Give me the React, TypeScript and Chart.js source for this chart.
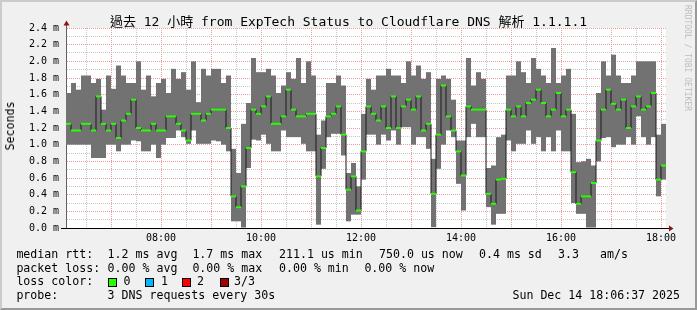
import React, { useEffect, useRef } from "react";
import { Chart, registerables } from "chart.js";

Chart.register(...registerables);

// Time window: 12 hours ending Sun Dec 14 18:06 (minutes since midnight)
const START_MINUTE = 366; // 06:06
const END_MINUTE = 1086; // 18:06
const STEP_MINUTES = 6; // one consolidated step per bar

// Smoke (max / min of the 3 probes) and median RTT per step, in ms
const smokeMax = [
  1.62, 1.74, 1.66, 1.83, 1.83, 1.74, 1.79, 1.42, 1.83, 1.67,
  1.95, 1.83, 1.74, 1.74, 2.0, 1.66, 1.83, 1.58, 1.74, 1.79,
  1.62, 1.91, 1.79, 1.87, 1.66, 2.0, 1.51, 1.91, 1.83, 1.91,
  1.91, 1.74, 1.83, 0.95, 0.66, 1.25, 1.5, 2.04, 1.87, 1.87,
  1.91, 1.83, 1.62, 1.71, 1.87, 1.79, 2.04, 1.74, 2.0, 1.83,
  1.12, 1.29, 1.74, 1.74, 1.83, 1.71, 0.66, 0.78, 0.5, 1.37,
  1.79, 1.66, 1.83, 1.83, 1.91, 1.83, 1.83, 1.74, 2.0, 1.83,
  1.95, 1.79, 1.87, 0.83, 1.79, 1.83, 1.79, 1.54, 1.05, 1.05,
  2.04, 1.71, 1.87, 1.79, 0.72, 0.75, 1.09, 1.12, 1.83, 1.83,
  2.0, 1.87, 1.74, 2.04, 1.91, 1.83, 1.74, 2.16, 1.74, 1.83,
  1.91, 1.37, 0.79, 0.8, 0.83, 0.75, 1.62, 2.0, 1.83, 2.08,
  1.83, 1.74, 1.74, 1.83, 2.0, 2.0, 2.0, 2.0, 1.12, 1.25,
];

const smokeMin = [
  1.0, 1.0, 1.0, 1.0, 1.0, 0.84, 0.84, 0.84, 1.0, 1.0,
  0.92, 1.0, 1.0, 1.05, 1.04, 0.92, 0.92, 1.0, 0.84, 1.0,
  1.08, 1.08, 1.17, 1.09, 1.01, 1.17, 1.01, 1.01, 1.01, 1.05,
  1.04, 1.0, 0.92, 0.08, 0.08, 0.0, 0.72, 1.06, 1.05, 1.12,
  1.01, 0.92, 0.92, 1.17, 1.09, 1.09, 1.09, 1.01, 0.92, 0.92,
  0.04, 0.71, 1.09, 1.13, 1.13, 0.87, 0.08, 0.16, 0.16, 0.58,
  1.12, 1.12, 1.0, 1.12, 1.05, 1.17, 1.0, 1.21, 1.21, 1.0,
  1.09, 1.09, 0.95, 0.01, 0.71, 1.0, 1.17, 1.09, 0.53, 0.21,
  1.09, 1.25, 1.09, 1.09, 0.25, 0.04, 0.17, 0.17, 1.05, 0.92,
  1.01, 1.01, 1.17, 1.01, 1.09, 0.92, 1.09, 0.92, 1.17, 0.92,
  0.92, 0.3, 0.17, 0.17, 0.0, 0.0, 0.8, 1.08, 1.09, 0.97,
  1.0, 1.0, 1.09, 1.0, 1.34, 1.09, 1.0, 1.09, 0.38, 0.58,
];

const medianRtt = [
  1.25, 1.17, 1.17, 1.25, 1.25, 1.17, 1.58, 1.25, 1.17, 1.25,
  1.08, 1.29, 1.37, 1.54, 1.2, 1.17, 1.17, 1.25, 1.17, 1.17,
  1.34, 1.34, 1.25, 1.17, 1.05, 1.37, 1.37, 1.29, 1.37, 1.42,
  1.42, 1.42, 1.2, 0.38, 0.25, 0.5, 0.96, 1.42, 1.37, 1.46,
  1.58, 1.25, 1.25, 1.34, 1.66, 1.42, 1.34, 1.34, 1.37, 1.37,
  0.62, 0.96, 1.34, 1.37, 1.46, 1.12, 0.46, 0.62, 0.21, 0.92,
  1.46, 1.37, 1.29, 1.46, 1.2, 1.58, 1.2, 1.46, 1.54, 1.42,
  1.58, 1.17, 1.25, 0.41, 1.12, 1.71, 1.34, 1.17, 0.92, 0.63,
  1.46, 1.42, 1.42, 1.42, 0.41, 0.29, 0.58, 0.59, 1.42, 1.34,
  1.46, 1.34, 1.5, 1.54, 1.66, 1.5, 1.34, 1.42, 1.62, 1.34,
  1.42, 0.67, 0.29, 0.38, 0.38, 0.54, 1.05, 1.42, 1.66, 1.49,
  1.42, 1.54, 1.2, 1.46, 1.58, 1.42, 1.46, 1.62, 0.58, 0.75,
];

// Axis definitions
const Y_MIN = 0;
const Y_MAX = 2.4;
const Y_GRID_TENTHS = 24; // grid every 0.1 ms, labels every 0.2 ms
const X_GRID_STEP = 30; // minutes
const X_MAJOR_STEP = 60;
const X_LABEL_STEP = 120;

const TITLE = "過去 12 小時 from ExpTech Status to Cloudflare DNS 解析 1.1.1.1";
const Y_TITLE = "Seconds";
const WATERMARK = "RRDTOOL / TOBI OETIKER";

const legendRows = [
  { top: 247.3, items: [["median rtt:", 16.4], ["1.2 ms avg", 107.6], ["1.7 ms max", 192.4], ["211.1 us min", 279], ["750.0 us now", 379], ["0.4 ms sd", 479], ["3.3", 558], ["am/s", 600]] },
  { top: 260.6, items: [["packet loss:", 16.4], ["0.00 % avg", 107.6], ["0.00 % max", 192.4], ["0.00 % min", 279], ["0.00 % now", 364.4]] },
  { top: 274.4, items: [["loss color:", 16.4], ["0", 123.6], ["1", 161], ["2", 197], ["3/3", 234]] },
  { top: 288.2, items: [["probe:", 16.4], ["3 DNS requests every 30s", 107.6]] },
];
const lossSwatches = [
  ["#26ff00", 108],
  ["#00b8ff", 145],
  ["#ff0000", 182],
  ["#a00000", 220],
];
const TIMESTAMP = "Sun Dec 14 18:06:37 2025";

const MONO = "'DejaVu Sans Mono', 'Noto Sans CJK TC', monospace";
const MAJOR_GRID = "rgba(238,150,150,0.95)";
const MINOR_GRID = "rgba(195,195,195,0.95)";

function hhmm(m: number) {
  const h = Math.floor(m / 60) % 24;
  const mm = m % 60;
  return String(h).padStart(2, "0") + ":" + String(mm).padStart(2, "0");
}

const plotBackground = {
  id: "plotBackground",
  beforeDraw(chart: any) {
    const { ctx, chartArea: a } = chart;
    ctx.save();
    ctx.fillStyle = "#ffffff";
    ctx.fillRect(a.left, a.top, a.right - a.left, a.bottom - a.top);
    ctx.restore();
  },
};

const axisArrows = {
  id: "axisArrows",
  afterDraw(chart: any) {
    const { ctx, chartArea: a } = chart;
    const yb = Math.round(a.bottom) + 0.5;
    const xl = Math.round(a.left) + 0.5;
    ctx.save();
    ctx.lineWidth = 1;
    ctx.strokeStyle = "#000";
    ctx.beginPath();
    ctx.moveTo(a.left - 5, yb);
    ctx.lineTo(a.right + 3, yb);
    ctx.stroke();
    ctx.strokeStyle = "#606060";
    ctx.beginPath();
    ctx.moveTo(xl, a.top);
    ctx.lineTo(xl, a.top - 3);
    ctx.stroke();
    ctx.fillStyle = "#8e1414";
    ctx.beginPath();
    ctx.moveTo(a.right + 3, yb - 3);
    ctx.lineTo(a.right + 7.5, yb);
    ctx.lineTo(a.right + 3, yb + 3);
    ctx.closePath();
    ctx.fill();
    ctx.beginPath();
    ctx.moveTo(xl - 3, a.top - 2.5);
    ctx.lineTo(xl, a.top - 7.5);
    ctx.lineTo(xl + 3, a.top - 2.5);
    ctx.closePath();
    ctx.fill();
    ctx.restore();
  },
};

export default function App() {
  const canvasRef = useRef<HTMLCanvasElement | null>(null);

  useEffect(() => {
    const canvas = canvasRef.current;
    if (!canvas) return;
    const times = medianRtt.map((_, i) => START_MINUTE + STEP_MINUTES * i + STEP_MINUTES / 2);
    const xGrid: number[] = [];
    for (let m = Math.ceil((START_MINUTE + 1) / X_GRID_STEP) * X_GRID_STEP; m < END_MINUTE; m += X_GRID_STEP) xGrid.push(m);
    const yGrid: number[] = [];
    for (let k = 0; k <= Y_GRID_TENTHS; k++) yGrid.push(k / 10);

    const isMajorY = (v: number) => Math.round(v * 10) % 2 === 0;

    const chart = new Chart(canvas, {
      type: "bar",
      data: {
        datasets: [
          {
            type: "bar",
            label: "median",
            data: times.map((x, i) => ({ x, y: [medianRtt[i] - 0.012, medianRtt[i] + 0.012] })) as any,
            backgroundColor: "#26ff00",
            borderWidth: 0,
            grouped: false,
            barPercentage: 1,
            categoryPercentage: 1,
            inflateAmount: 0,
            order: 1,
          } as any,
          {
            type: "line",
            label: "median step",
            data: times.map((x, i) => ({ x, y: medianRtt[i] })) as any,
            stepped: "middle",
            borderColor: "#1a1a1a",
            borderWidth: 1,
            pointRadius: 0,
            fill: false,
            order: 2,
          } as any,
          {
            type: "bar",
            label: "smoke",
            data: times.map((x, i) => ({ x, y: [smokeMin[i], smokeMax[i]] })) as any,
            backgroundColor: "#727272",
            borderWidth: 0,
            grouped: false,
            barPercentage: 1,
            categoryPercentage: 1,
            inflateAmount: 0,
            order: 3,
          } as any,
        ],
      },
      options: {
        responsive: false,
        devicePixelRatio: 1,
        animation: false,
        events: [],
        layout: { padding: { left: 0, top: 28, right: 31, bottom: 0 } },
        plugins: {
          legend: { display: false },
          tooltip: { enabled: false },
          title: { display: false },
        },
        scales: {
          x: {
            type: "linear",
            min: START_MINUTE,
            max: END_MINUTE,
            offset: false,
            afterBuildTicks: (scale: any) => {
              scale.ticks = xGrid.map((v) => ({ value: v }));
            },
            afterFit: (scale: any) => {
              scale.height = 82;
            },
            grid: {
              offset: false,
              lineWidth: 1,
              tickLength: 3,
              color: (ctx: any) => (ctx.tick && ctx.tick.value % X_MAJOR_STEP === 0 ? MAJOR_GRID : MINOR_GRID),
              tickColor: "rgba(0,0,0,0)",
            },
            border: { display: true, color: "#000", width: 1, dash: [1, 1] },
            ticks: {
              autoSkip: false,
              maxRotation: 0,
              minRotation: 0,
              padding: 1,
              color: "#000",
              font: { family: MONO, size: 10 },
              callback: (v: any) => (Number(v) % X_LABEL_STEP === 0 ? hhmm(Number(v)) : ""),
            },
          },
          y: {
            type: "linear",
            min: Y_MIN,
            max: Y_MAX,
            afterBuildTicks: (scale: any) => {
              scale.ticks = yGrid.map((v) => ({ value: v }));
            },
            afterFit: (scale: any) => {
              scale.width = 66;
            },
            grid: {
              lineWidth: 1,
              tickLength: 3,
              color: (ctx: any) => (ctx.tick && isMajorY(ctx.tick.value) ? MAJOR_GRID : MINOR_GRID),
              tickColor: "rgba(0,0,0,0)",
            },
            border: { display: true, color: "#606060", width: 1, dash: [1, 1] },
            ticks: {
              autoSkip: false,
              padding: 4,
              color: "#000",
              font: { family: MONO, size: 10 },
              callback: (v: any) => {
                const k = Math.round(Number(v) * 10);
                return k % 2 === 0 ? (k / 10).toFixed(1) + " m" : "";
              },
            },
          },
        },
      },
      plugins: [plotBackground, axisArrows],
    });
    return () => chart.destroy();
  }, []);

  const text: React.CSSProperties = {
    position: "absolute",
    fontFamily: MONO,
    fontSize: "11.6px",
    lineHeight: "14px",
    whiteSpace: "pre",
    color: "#000",
  };

  return (
    <div
      style={{
        position: "fixed",
        left: 0,
        top: 0,
        width: 697,
        height: 310,
        background: "#f0f0f0",
        overflow: "hidden",
      }}
    >
      <canvas
        ref={canvasRef}
        width={697}
        height={310}
        style={{ position: "absolute", left: 0, top: 0, width: 697, height: 310 }}
      />
      <div
        style={{
          position: "absolute",
          left: 0,
          top: 14,
          width: 697,
          textAlign: "center",
          fontFamily: MONO,
          fontSize: "13px",
          lineHeight: "16px",
          whiteSpace: "pre",
          color: "#000",
        }}
      >
        {TITLE}
      </div>
      <div
        style={{
          ...text,
          left: 10,
          top: 126,
          transform: "translate(-50%, -50%) rotate(-90deg)",
        }}
      >
        {Y_TITLE}
      </div>
      <div
        style={{
          position: "absolute",
          left: 683,
          top: 5,
          writingMode: "vertical-rl",
          fontFamily: MONO,
          fontSize: "8px",
          lineHeight: "9px",
          whiteSpace: "pre",
          color: "#bdbdbd",
        }}
      >
        {WATERMARK}
      </div>
      {legendRows.map((row, r) =>
        row.items.map(([label, x], j) => (
          <div key={r + "-" + j} style={{ ...text, left: x as number, top: row.top }}>
            {label as string}
          </div>
        ))
      )}
      {lossSwatches.map(([color, x]) => (
        <div
          key={color as string}
          style={{
            position: "absolute",
            left: x as number,
            top: 277.5,
            width: 9,
            height: 9,
            boxSizing: "border-box",
            border: "1px solid #000",
            background: color as string,
          }}
        />
      ))}
      <div style={{ ...text, right: 17, top: 288.2 }}>{TIMESTAMP}</div>
      <div
        style={{
          position: "absolute",
          left: 0,
          top: 0,
          width: 697,
          height: 310,
          boxSizing: "border-box",
          borderTop: "2px solid #cbcbcb",
          borderLeft: "2px solid #cbcbcb",
          borderRight: "2px solid #999999",
          borderBottom: "2px solid #999999",
          pointerEvents: "none",
        }}
      />
    </div>
  );
}
